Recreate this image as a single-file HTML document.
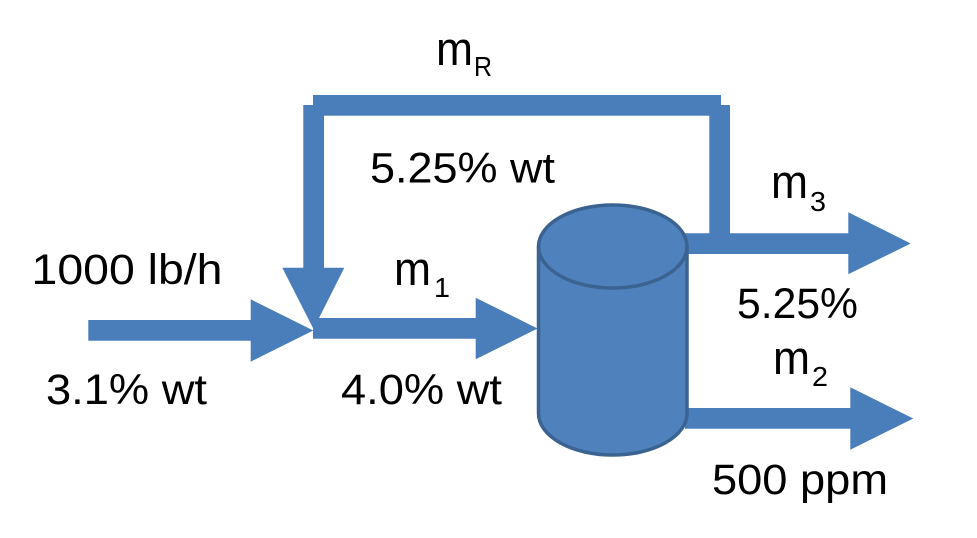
<!DOCTYPE html>
<html>
<head>
<meta charset="utf-8">
<style>
html,body{margin:0;padding:0;background:#fff;}
svg{display:block;}
text{font-family:"Liberation Sans",sans-serif;fill:#000;}
.t{font-size:43px;}
.m{font-size:47px;}
.s{font-size:28px;}
</style>
</head>
<body>
<svg width="977" height="538" viewBox="0 0 977 538" xmlns="http://www.w3.org/2000/svg">
<rect width="977" height="538" fill="#fff"/>
<g fill="#4a7ebb">
<polygon points="88.3,320 250.7,320 250.7,299.3 313.3,330.5 250.7,361.7 250.7,340.7 88.3,340.7"/>
<rect x="313" y="95" width="408" height="20.7"/>
<polygon points="303.3,105 324,105 324,267.7 344.3,267.7 313.5,329 282.3,267.7 303.3,267.7"/>
<polygon points="313,318 475.7,318 475.7,297.7 537.5,328.5 475.7,359.3 475.7,338.7 313,338.7"/>
<rect x="709.3" y="105" width="20.7" height="135"/>
<polygon points="685,233.3 848.3,233.3 848.3,212.3 910.7,243.5 848.3,274.3 848.3,254 685,254"/>
<polygon points="685,408 850.3,408 850.3,387.3 913.3,418.5 850.3,449.7 850.3,428.7 685,428.7"/>
</g>
<path d="M538.5,246.5 A74.2,41.5 0 0 1 687,246.5 L687,413.5 A74.2,41.5 0 0 1 538.5,413.5 Z" fill="#4f81bd" stroke="#3b6391" stroke-width="3.5"/>
<path d="M538.5,246.5 A74.2,41.5 0 0 0 687,246.5" fill="none" stroke="#3b6391" stroke-width="3.5"/>

<text class="t" x="31.5" y="284" textLength="191" lengthAdjust="spacingAndGlyphs">1000 lb/h</text>
<text class="t" x="46" y="404" textLength="161" lengthAdjust="spacingAndGlyphs">3.1% wt</text>
<text class="t" x="341" y="404" textLength="161" lengthAdjust="spacingAndGlyphs">4.0% wt</text>
<text class="t" x="370" y="182.5" textLength="185" lengthAdjust="spacingAndGlyphs">5.25% wt</text>
<text class="t" x="737" y="318" textLength="121" lengthAdjust="spacingAndGlyphs">5.25%</text>
<text class="t" x="712" y="494" textLength="176" lengthAdjust="spacingAndGlyphs">500 ppm</text>

<text class="m" x="394" y="285" textLength="37" lengthAdjust="spacingAndGlyphs">m</text>
<text class="s" x="434" y="297" textLength="16" lengthAdjust="spacingAndGlyphs">1</text>
<text class="m" x="771" y="198" textLength="37" lengthAdjust="spacingAndGlyphs">m</text>
<text class="s" x="810" y="211" textLength="16" lengthAdjust="spacingAndGlyphs">3</text>
<text class="m" x="773" y="374" textLength="37" lengthAdjust="spacingAndGlyphs">m</text>
<text class="s" x="812" y="386" textLength="16" lengthAdjust="spacingAndGlyphs">2</text>
<text class="m" x="436" y="65" textLength="37" lengthAdjust="spacingAndGlyphs">m</text>
<text class="s" x="474" y="76" textLength="18" lengthAdjust="spacingAndGlyphs">R</text>
</svg>
</body>
</html>
